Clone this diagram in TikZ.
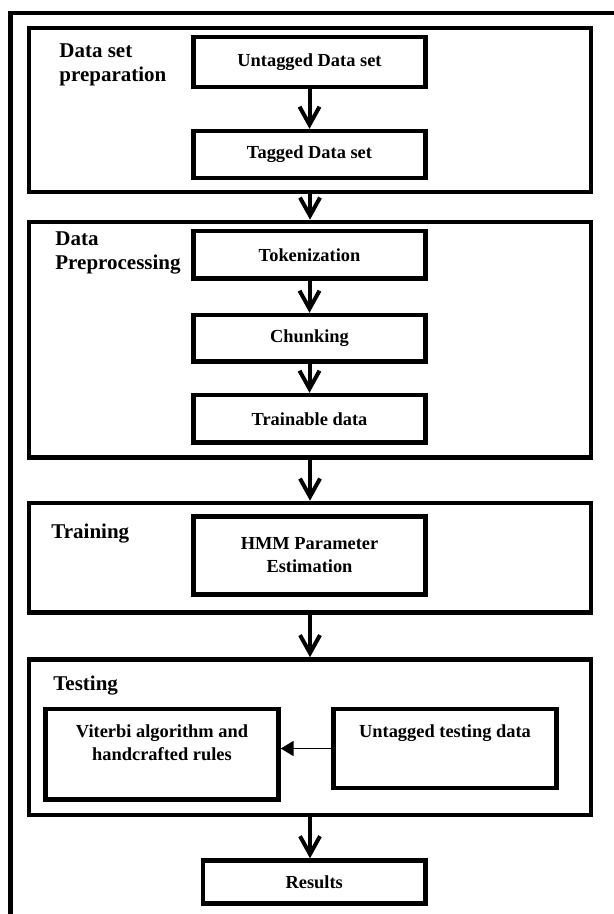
\documentclass[tikz,border=0pt]{standalone}
\usepackage{fontspec}
\setmainfont{Liberation Serif}
\usetikzlibrary{arrows.meta,positioning}

\begin{document}
\begin{tikzpicture}[
  x=0.5pt, y=-0.5pt,
  grp/.style={draw, line width=2.3pt, minimum width=281pt, inner sep=0pt},
  stepbox/.style={draw, line width=2.2pt, minimum width=116pt, align=center, inner sep=0pt, font=\fontsize{9.2}{11.5}\selectfont\bfseries},
  lbl/.style={anchor=north west, inner sep=0pt, align=left, font=\fontsize{10.5}{12}\selectfont\bfseries},
  arr/.style={-{Straight Barb[length=9pt,width=10pt]}, line width=2pt},
  thin/.style={-{Triangle[length=6.5pt,width=7.5pt]}, line width=0.9pt}
]
\useasboundingbox (0,0) rectangle (614,914);
\draw[line width=2.2pt] (10.5,940) |- (640,13);
% stages
\node[grp, minimum height=82pt] (prep) at (310,110) {};
\node[grp, minimum height=117.75pt] (pre) at (310,339.75) {};
\node[grp, minimum height=54.75pt] (train) at (310,557.75) {};
\node[grp, minimum height=77.75pt] (test) at (310,737.25) {};
\node[lbl] (lprep) at (59,43) {Data set\\preparation};
\node[lbl] (lpre) at (55,231.5) {Data\\Preprocessing};
\node[lbl] (ltrain) at (51,524) {Training};
\node[lbl] (ltest) at (53,676) {Testing};
% steps
\node[stepbox, minimum height=25pt] (untag) at (309.5,62) {Untagged Data set};
\node[stepbox, minimum height=23.5pt, below=19.8pt of untag] (tag) {Tagged Data set};
\node[stepbox, minimum height=23.75pt] (token) at (309.5,254.75) {Tokenization};
\node[stepbox, minimum height=23.25pt, below=16.05pt of token] (chunk) {Chunking};
\node[stepbox, minimum height=23.75pt, below=14.55pt of chunk] (trainable) {Trainable data};
\node[stepbox, minimum height=39pt] (hmm) at (309.5,555.5) {HMM Parameter\\Estimation};
\node[stepbox, minimum width=116.5pt, minimum height=45.25pt, text depth=11.6pt] (vit) at (162,754.25) {Viterbi algorithm and\\handcrafted rules};
\node[stepbox, minimum width=111.5pt, minimum height=39.5pt, text depth=17.5pt] (utest) at (445,748.5) {Untagged testing data};
\node[stepbox, minimum width=111.25pt, minimum height=21.5pt] (results) at (314.25,882) {Results};
\foreach \a/\b in {untag/tag,prep/pre,token/chunk,chunk/trainable,pre/train,train/test} \draw[arr] (\a) -- (\b);
\draw[arr] (test.south) -- (test.south |- results.north);
\draw[thin] (utest.west) -- (utest.west -| vit.east);
\end{tikzpicture}
\end{document}
